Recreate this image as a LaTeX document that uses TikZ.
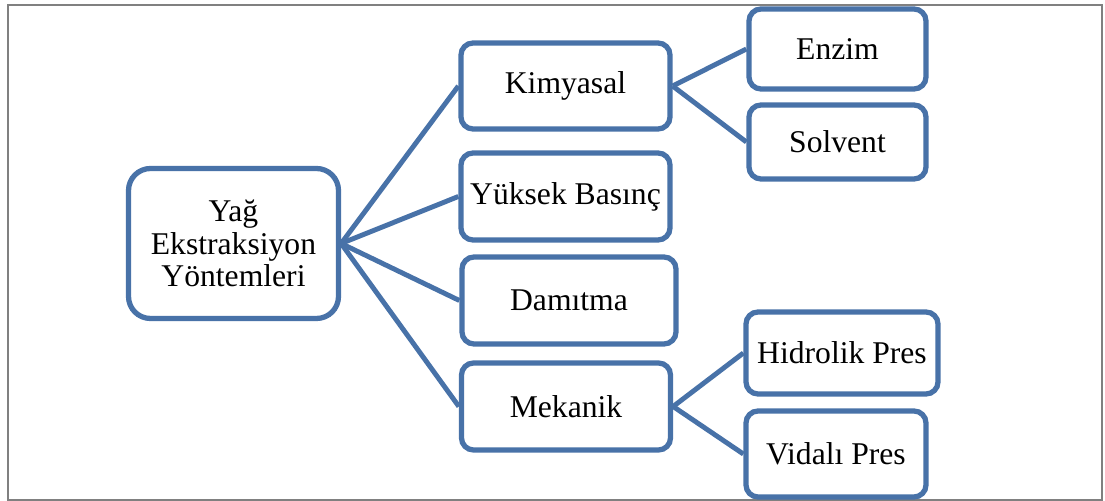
\documentclass[tikz,border=0pt]{standalone}
\usepackage{fontspec}
\setmainfont{Liberation Serif}
\usepackage{xcolor}
\usepackage{tikz}
\definecolor{boxblue}{RGB}{72,114,168}
\definecolor{framegray}{RGB}{128,128,128}
\tikzset{
    box/.style={draw=boxblue, line width=3pt, fill=white, rounded corners=0.24cm,
        align=center, inner sep=0pt, font=\fontsize{18}{18.5}\selectfont},
    link/.style={draw=boxblue, line width=2.8pt}
}

\begin{document}
\begin{tikzpicture}
    \useasboundingbox (0,0) rectangle (22.1,10.02);
    % Frame
    \draw[framegray, line width=1.1pt] (0.16,0.02) rectangle (22.04,9.92);

    % Coordinates
    \coordinate (R) at (4.67,5.15);
    \coordinate (K) at (11.31,8.30);
    \coordinate (Y) at (11.31,6.09);
    \coordinate (D) at (11.38,4.01);
    \coordinate (M) at (11.32,1.89);
    \coordinate (E) at (16.75,9.04);
    \coordinate (S) at (16.75,7.18);
    \coordinate (H) at (16.84,2.96);
    \coordinate (V) at (16.72,0.94);

    % Root
    \node[box, rounded corners=0.44cm, minimum width=4.2cm, minimum height=3.0cm] (root) at (R) {Yağ\\Ekstraksiyon\\Yöntemleri};

    % Methods
    \node[box, minimum width=4.18cm, minimum height=1.72cm] (kim) at (K) {Kimyasal};
    \node[box, minimum width=4.18cm, minimum height=1.74cm] (yuk) at (Y) {Yüksek Basınç};
    \node[box, minimum width=4.28cm, minimum height=1.74cm] (dam) at (D) {Damıtma};
    \node[box, minimum width=4.18cm, minimum height=1.74cm] (mek) at (M) {Mekanik};

    % Sub methods
    \node[box, minimum width=3.54cm, minimum height=1.6cm] (enz) at (E) {Enzim};
    \node[box, minimum width=3.54cm, minimum height=1.48cm] (sol) at (S) {Solvent};
    \node[box, minimum width=3.84cm, minimum height=1.64cm] (hid) at (H) {Hidrolik Pres};
    \node[box, minimum width=3.6cm, minimum height=1.72cm] (vid) at (V) {Vidalı Pres};

    % Connectors
    \foreach \n in {kim, yuk, dam, mek}
        \draw[link] (root.east) -- (\n.west);
    \draw[link] (kim.east) -- (enz.west);
    \draw[link] (kim.east) -- (sol.west);
    \draw[link] (mek.east) -- (hid.west);
    \draw[link] (mek.east) -- (vid.west);
\end{tikzpicture}
\end{document}
